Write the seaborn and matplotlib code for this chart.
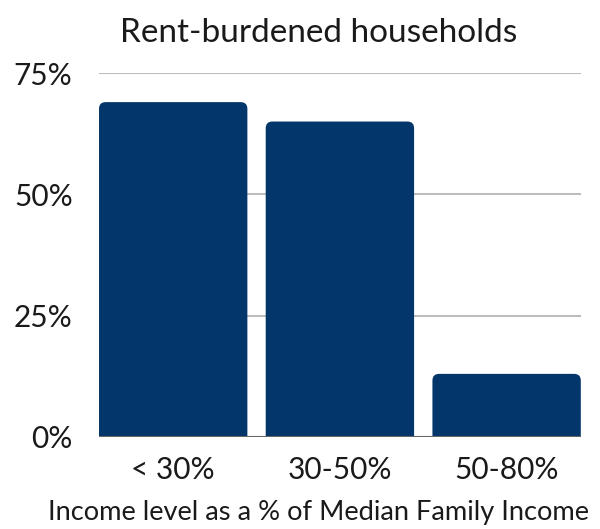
import numpy as np
import pandas as pd
import matplotlib
matplotlib.use("Agg")
import matplotlib.pyplot as plt
import seaborn as sns
from matplotlib.patches import FancyBboxPatch

# Data
income_levels = ["< 30%", "30-50%", "50-80%"]
rent_burdened_pct = [69, 65, 13]
y_ticks = [0, 25, 50, 75]

sns.set_style("white")
plt.rcParams["font.family"] = ["Lato", "DejaVu Sans"]

df = pd.DataFrame({"income": income_levels, "pct": rent_burdened_pct})

fig = plt.figure(figsize=(6.0, 5.29), dpi=100)
ax = fig.add_axes([0.165, 0.174, 0.803, 0.688])

sns.barplot(data=df, x="income", y="pct", color="#03366a", width=0.89,
            saturation=1, ax=ax, zorder=3)

ax.set_ylim(0, 75)
ax.set_xlim(-0.445, 2.445)

# swap square bars for bars with rounded tops
fig.canvas.draw()
xr = ax.get_xlim()[1] - ax.get_xlim()[0]
yr = ax.get_ylim()[1] - ax.get_ylim()[0]
bbox = ax.get_window_extent()
aspect = (yr / bbox.height) / (xr / bbox.width)
for p in list(ax.patches):
    x, y = p.get_x(), p.get_y()
    w, h = p.get_width(), p.get_height()
    rounded = FancyBboxPatch((x, y - 5), w, h + 5,
                             boxstyle="round,pad=0,rounding_size=0.04",
                             mutation_aspect=aspect,
                             facecolor=p.get_facecolor(), edgecolor="none",
                             zorder=3, clip_on=True)
    p.remove()
    ax.add_patch(rounded)

ax.set_yticks(y_ticks)
ax.set_yticklabels([f"{t}%" for t in y_ticks])
for t in y_ticks[1:]:
    ax.axhline(t, color="#bdbdbd", lw=1.5, zorder=1)
ax.axhline(0, color="#666666", lw=1.5, zorder=4)

for s in ax.spines.values():
    s.set_visible(False)
ax.tick_params(axis="both", length=0, labelsize=21.5, colors="#1a1a1a")
ax.tick_params(axis="x", pad=14)
ax.tick_params(axis="y", pad=19)

ax.set_title("Rent-burdened households", fontsize=24, pad=22, x=0.455,
             color="#1a1a1a")
ax.set_xlabel("Income level as a % of Median Family Income", fontsize=19.6,
              color="#1a1a1a")
ax.xaxis.set_label_coords(0.455, -0.172)
ax.set_ylabel("")

fig.savefig("out.png", dpi=100)
